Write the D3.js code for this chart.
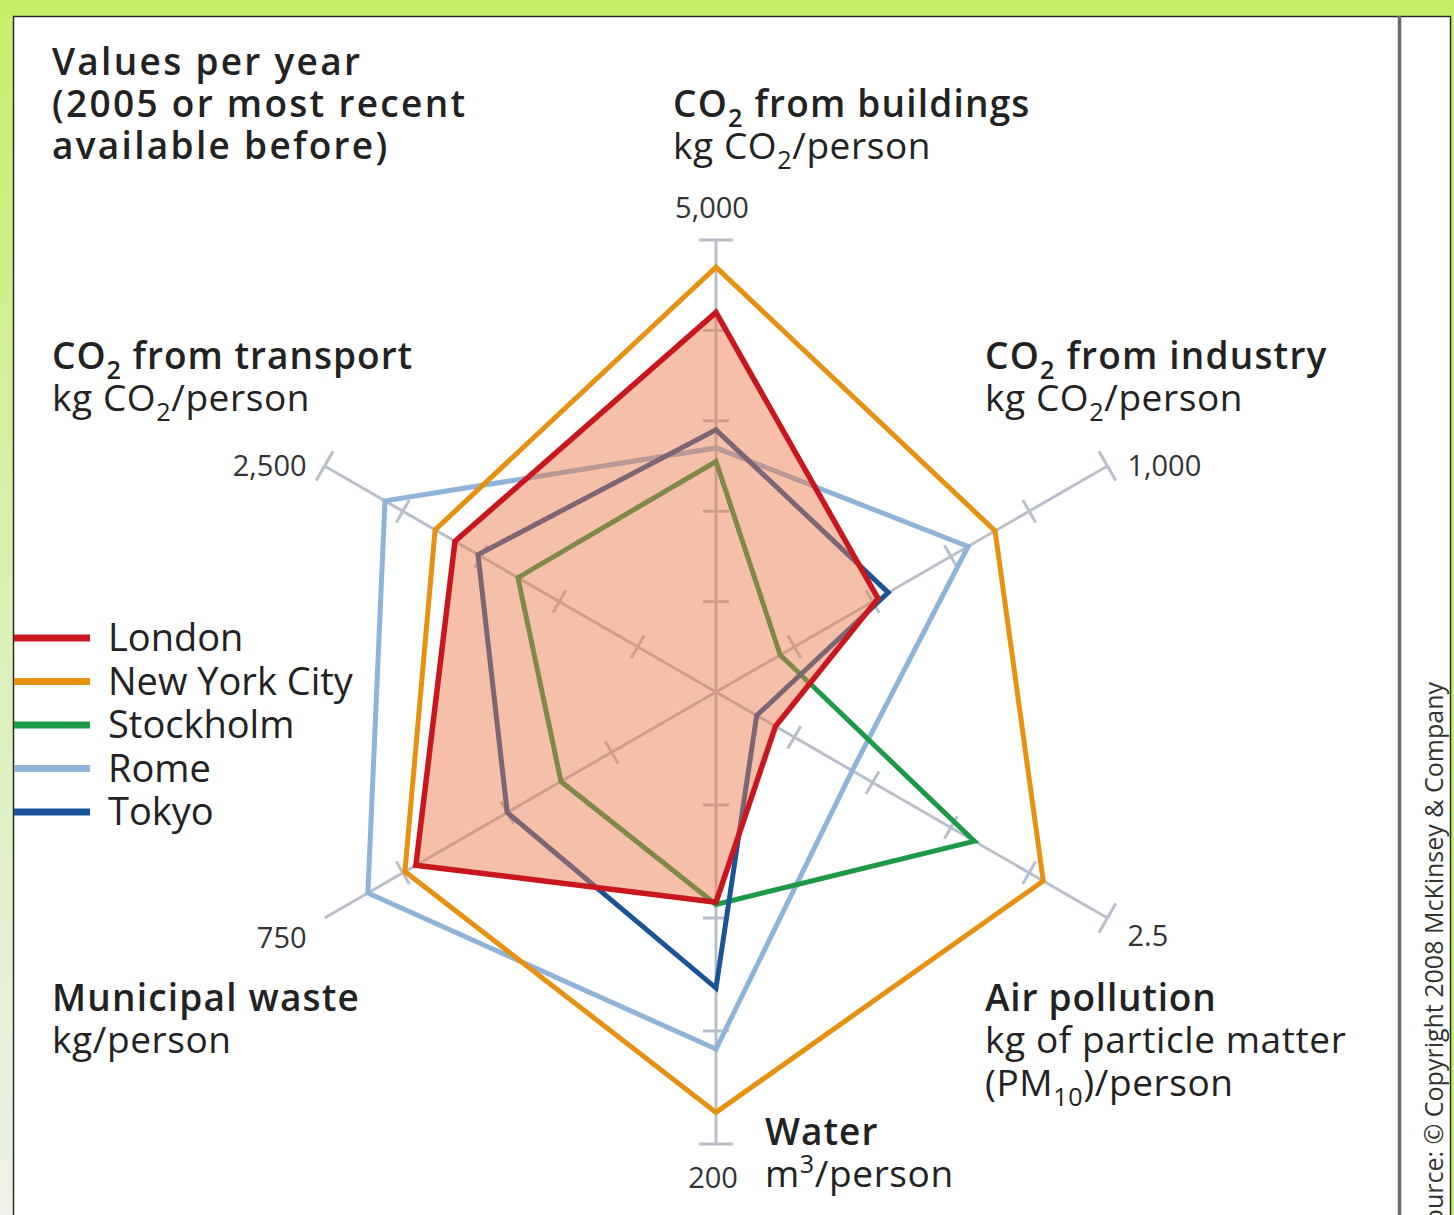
<!DOCTYPE html>
<html>
<head>
<meta charset="utf-8">
<script src="https://cdn.jsdelivr.net/npm/d3@7"></script>
<style>
  html, body { margin: 0; padding: 0; background: #c6f06c; }
  svg { display: block; }
  text { font-family: "Open Sans", "Noto Sans", sans-serif; fill: #222; }
</style>
</head>
<body>
<svg id="chart" width="1454" height="1215"></svg>
<script>
// ---------- data ----------
const axisNames = ["CO2 from buildings", "CO2 from industry", "Air pollution", "Water", "Municipal waste", "CO2 from transport"];
const axisMax = [5000, 1000, 2.5, 200, 750, 2500];
const tickLabels = ["5,000", "1,000", "2.5", "200", "750", "2,500"];
const cities = ["London", "New York City", "Stockholm", "Rome", "Tokyo"];
const london = [4200, 414, 0.38, 93, 575, 1667];
const newYork = [4700, 713, 2.09, 186, 596, 1794];
const stockholm = [2550, 164, 1.65, 94, 297, 1265];
const rome = [2700, 644, 0.87, 158, 667, 2114];
const tokyo = [2900, 440, 0.26, 131, 400, 1520];
const cityColors = ["#c8171e", "#e8900f", "#1d9a48", "#8fb4da", "#1a5498"];

// ---------- layout ----------
const W = 1454, H = 1215;
const cx = 716, cy = 692, R = 452;
const svg = d3.select("#chart");

// frame
const defs = svg.append("defs");
const lg = defs.append("linearGradient").attr("id", "leftband").attr("x1", 0).attr("y1", 0).attr("x2", 0).attr("y2", 1);
lg.append("stop").attr("offset", "0%").attr("stop-color", "#c6f06c");
lg.append("stop").attr("offset", "55%").attr("stop-color", "#dcf1bc");
lg.append("stop").attr("offset", "100%").attr("stop-color", "#eef2e8");
svg.append("rect").attr("x", 0).attr("y", 0).attr("width", W).attr("height", H).attr("fill", "#c6f06c");
svg.append("rect").attr("x", 0).attr("y", 16).attr("width", 13).attr("height", H - 16).attr("fill", "url(#leftband)");
svg.append("rect").attr("x", 13.5).attr("y", 16.5).attr("width", 1437).attr("height", H + 10)
  .attr("fill", "#fff").attr("stroke", "#2a2a2a").attr("stroke-width", 1.5);
svg.append("line").attr("x1", 1399.5).attr("x2", 1399.5).attr("y1", 16).attr("y2", H)
  .attr("stroke", "#6a6a6a").attr("stroke-width", 3.5);

// scales
const angle = d3.scaleLinear().domain([0, axisNames.length]).range([0, 2 * Math.PI]);
const radial = axisMax.map(m => d3.scaleLinear().domain([0, m]).range([0, R]));

const g = svg.append("g").attr("transform", `translate(${cx},${cy})`);

// axes with ticks
const axisColor = "#b9bfca";
axisNames.forEach((name, i) => {
  const ag = g.append("g").attr("transform", `rotate(${angle(i) * 180 / Math.PI})`);
  ag.append("line").attr("x1", 0).attr("y1", 0).attr("x2", 0).attr("y2", -radial[i](axisMax[i]))
    .attr("stroke", axisColor).attr("stroke-width", 3);
  const ticks = radial[i].ticks(5).filter(t => t > 0);
  ticks.forEach(t => {
    const half = t === axisMax[i] ? 17 : 13;
    ag.append("line").attr("x1", -half).attr("x2", half)
      .attr("y1", -radial[i](t)).attr("y2", -radial[i](t))
      .attr("stroke", axisColor).attr("stroke-width", 3);
  });
});

// city polygons
const series = [london, newYork, stockholm, rome, tokyo];
const line = d3.lineRadial()
  .angle((d, i) => angle(i))
  .radius((d, i) => radial[i](d))
  .curve(d3.curveLinearClosed);

const drawOrder = [3, 1, 2, 4]; // Rome, NYC, Stockholm, Tokyo
drawOrder.forEach(ci => {
  g.append("path").attr("d", line(series[ci]))
    .attr("fill", "none").attr("stroke", cityColors[ci])
    .attr("stroke-width", 5).attr("stroke-linejoin", "miter");
});
// London filled area over the others
g.append("path").attr("d", line(london))
  .attr("fill", "#ea7a4c").attr("fill-opacity", 0.48).attr("stroke", "none");
g.append("path").attr("d", line(london))
  .attr("fill", "none").attr("stroke", cityColors[0])
  .attr("stroke-width", 5.5).attr("stroke-linejoin", "miter");

// tick (max) labels
const tickOffsets = [[-4, -22, "middle"], [20, 10, "start"], [20, 28, "start"], [-3, 44, "middle"], [-18, 30, "end"], [-18, 10, "end"]];
axisNames.forEach((name, i) => {
  const a = angle(i), r = radial[i](axisMax[i]);
  const x = r * Math.sin(a), y = -r * Math.cos(a);
  g.append("text").attr("x", x + tickOffsets[i][0]).attr("y", y + tickOffsets[i][1])
    .attr("text-anchor", tickOffsets[i][2]).attr("font-size", 29).style("fill", "#333")
    .text(tickLabels[i]);
});

// helper for titles with subscripts/superscripts
function richText(x, y, parts, size, weight, spacing) {
  const t = svg.append("text").attr("x", x).attr("y", y).attr("font-size", size)
    .attr("font-weight", weight).attr("letter-spacing", spacing || 0);
  let pending = 0;
  parts.forEach(p => {
    if (typeof p === "string") {
      const s = t.append("tspan").text(p);
      if (pending) { s.attr("dy", -pending); pending = 0; }
    } else {
      const dy = p.sub ? size * 0.28 : -size * 0.38;
      t.append("tspan").attr("font-size", size * 0.68).attr("dy", dy).text(p.t);
      pending = dy;
    }
  });
  return t;
}

const TS = 37, US = 37;
// Title
richText(52, 75, ["Values per year"], 37, 600, 2.3);
richText(52, 117, ["(2005 or most recent"], 37, 600, 2.3);
richText(52, 159, ["available before)"], 37, 600, 2.3);

// Axis titles
richText(673, 117, ["CO", { t: "2", sub: true }, " from buildings"], TS, 600, 1.2);
richText(673, 159, ["kg CO", { t: "2", sub: true }, "/person"], US, 400, 0.6);

richText(985, 369, ["CO", { t: "2", sub: true }, " from industry"], TS, 600, 1.2);
richText(985, 411, ["kg CO", { t: "2", sub: true }, "/person"], US, 400, 0.6);

richText(52, 369, ["CO", { t: "2", sub: true }, " from transport"], TS, 600, 1.0);
richText(52, 411, ["kg CO", { t: "2", sub: true }, "/person"], US, 400, 0.6);

richText(52, 1011, ["Municipal waste"], TS, 600, 1.2);
richText(52, 1053, ["kg/person"], US, 400, 0.6);

richText(985, 1011, ["Air pollution"], TS, 600, 0.8);
richText(985, 1053, ["kg of particle matter"], US, 400, 0.6);
richText(985, 1096, ["(PM", { t: "10", sub: true }, ")/person"], US, 400, 0.6);

richText(765, 1145, ["Water"], TS, 600, 1.0);
richText(765, 1187, ["m", { t: "3", sub: false }, "/person"], US, 400, 0.6);

// Legend
const legendY = d3.scaleLinear().domain([0, cities.length - 1]).range([638, 812]);
cities.forEach((c, i) => {
  svg.append("line").attr("x1", 14).attr("x2", 90).attr("y1", legendY(i)).attr("y2", legendY(i))
    .attr("stroke", cityColors[i]).attr("stroke-width", 7);
  svg.append("text").attr("x", 108).attr("y", legendY(i) + 13).attr("font-size", 38).text(c);
});

// Source (rotated)
svg.append("text").attr("transform", "translate(1443,682) rotate(-90)")
  .attr("text-anchor", "end").attr("font-size", 25).style("fill", "#333")
  .text("Source: \u00a9 Copyright 2008 McKinsey & Company");
</script>
</body>
</html>
